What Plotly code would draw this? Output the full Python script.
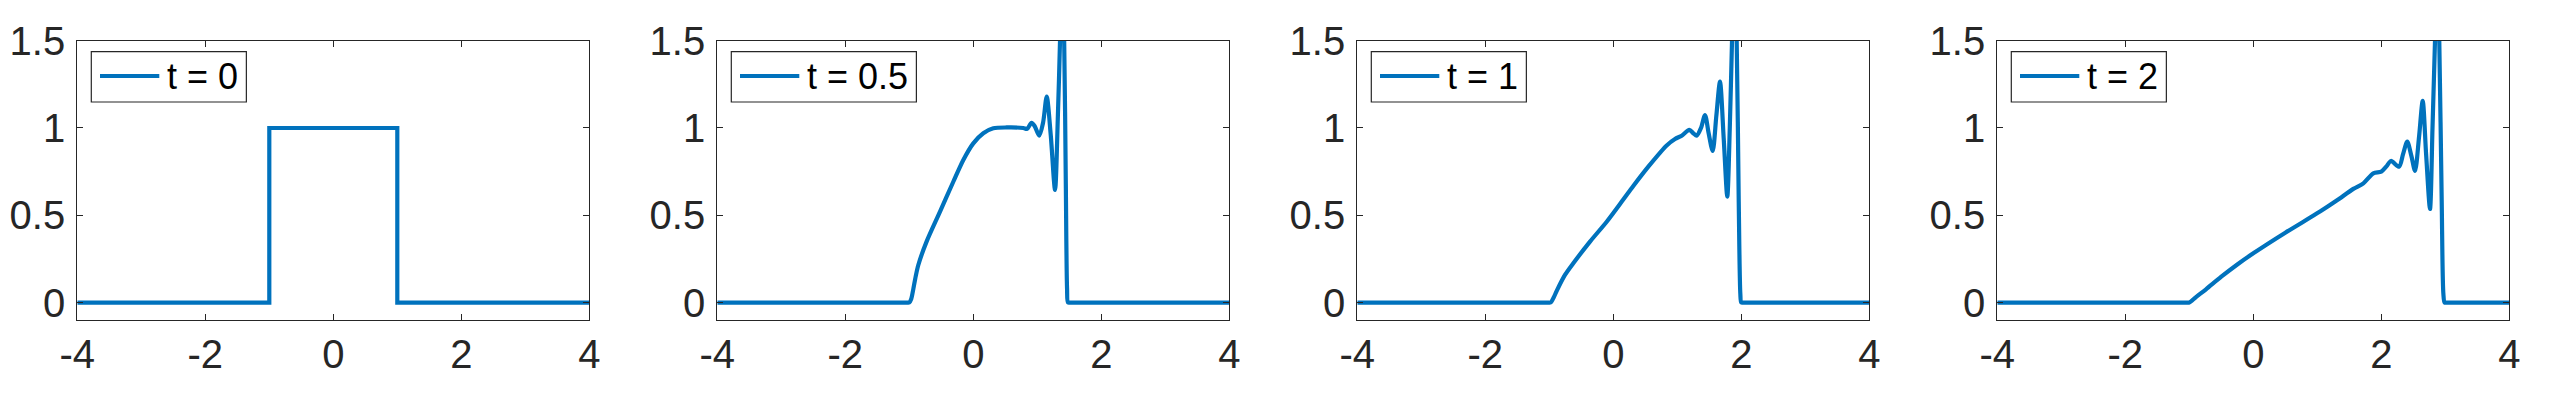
import plotly.graph_objects as go

# ---------------- data ----------------
labels = ["t = 0", "t = 0.5", "t = 1", "t = 2"]

x_t0 = [-4, -1, -1, 1, 1, 4]
u_t0 = [0, 0, 1, 1, 0, 0]

x_t05 = [-4, -1.05, -1.0, -0.97, -0.936, -0.9, -0.859, -0.73, -0.52, -0.3125, -0.156, 0.0,
         0.156, 0.3125, 0.52, 0.78, 0.84, 0.91, 0.96, 1.03, 1.09, 1.147, 1.21, 1.277,
         1.32, 1.355, 1.385, 1.42, 1.445, 1.465, 1.48, 1.52, 4]
u_t05 = [0, 0, 0, 0.02, 0.08, 0.15, 0.215, 0.349, 0.521, 0.692, 0.817, 0.912,
         0.97, 0.998, 1.003, 1.0, 0.995, 1.03, 1.01, 0.956, 1.03, 1.18, 0.96, 0.645,
         1.05, 1.5, 1.95, 1.5, 0.7, 0.08, 0, 0, 0]

x_t1 = [-4, -1.03, -0.98, -0.93, -0.884, -0.755, -0.625, -0.364, -0.103, 0.156, 0.3125,
        0.573, 0.834, 0.964, 1.069, 1.1875, 1.25, 1.303, 1.37, 1.433, 1.49, 1.553,
        1.61, 1.667, 1.725, 1.781, 1.82, 1.855, 1.89, 1.928, 1.96, 1.985, 2.0, 2.04, 4]
u_t1 = [0, 0, 0, 0.03, 0.067, 0.158, 0.225, 0.349, 0.463, 0.59, 0.668,
        0.79, 0.9, 0.937, 0.956, 0.989, 0.97, 0.956, 1.0, 1.074, 0.97, 0.868,
        1.07, 1.265, 0.94, 0.607, 1.0, 1.5, 1.95, 1.5, 0.578, 0.05, 0, 0, 0]

x_t2 = [-4, -1.05, -1.0, -0.9, -0.739, -0.5, -0.25, 0.0, 0.5, 1.042, 1.303, 1.5625, 1.72,
        1.875, 2.0, 2.08, 2.152, 2.277, 2.34, 2.406, 2.47, 2.527, 2.59, 2.647, 2.70,
        2.761, 2.80, 2.839, 2.875, 2.906, 2.944, 2.97, 2.99, 3.03, 4]
u_t2 = [0, 0, 0, 0.03, 0.076, 0.148, 0.218, 0.282, 0.4, 0.521, 0.584, 0.651, 0.683,
        0.74, 0.75, 0.78, 0.811, 0.778, 0.85, 0.922, 0.84, 0.754, 0.95, 1.155, 0.85,
        0.536, 1.0, 1.5, 1.95, 1.5, 0.578, 0.05, 0, 0, 0]

xs = [x_t0, x_t05, x_t1, x_t2]
us = [u_t0, u_t05, u_t1, u_t2]

x_ticks = [-4, -2, 0, 2, 4]
y_ticks = [0, 0.5, 1, 1.5]
y_ticktext = ["0", "0.5", "1", "1.5"]
x_range = [-4, 4]
y_range = [-0.1, 1.5]

# ---------------- layout geometry ----------------
W, H = 2560, 400
LEFT0, PANEL_W, STEP = 77.3, 512, 640
TOP, BOTTOM = 40.7, 320
LINE_COLOR = "#0072BD"
LINE_W = 4.2
TXT = "#262626"
FONT = "Liberation Sans, Arial, Helvetica, sans-serif"
LEG_FONT = 36
# legend box geometry (px, relative to the axes' left edge / figure top)
LEG_DX, LEG_TOP, LEG_BOT = 14, 51.7, 102.0
LEG_LINE0, LEG_LINE1, LEG_TEXT = 8.7, 68.0, 74.0
LEG_MID = 76.5
# approximate Helvetica advance widths (em) for legend box sizing
ADV = {"t": 0.278, " ": 0.278, "=": 0.584, ".": 0.278}


def text_width(s, size):
    return sum(ADV.get(c, 0.556) for c in s) * size


def px_x(px):
    return px / W


def px_y(py):
    return 1 - py / H


fig = go.Figure()
layout = dict(
    template="none",
    width=W, height=H,
    margin=dict(l=0, r=0, t=0, b=0, pad=0, autoexpand=False),
    paper_bgcolor="white", plot_bgcolor="white",
    font=dict(family=FONT, color=TXT, size=40),
    showlegend=False,
)
shapes, annotations = [], []

for i in range(4):
    sfx = "" if i == 0 else str(i + 1)
    fig.add_trace(go.Scatter(
        x=xs[i], y=us[i], mode="lines", name=labels[i],
        line=dict(color=LINE_COLOR, width=LINE_W,
                  shape="spline" if i else "linear", smoothing=0.8),
        xaxis="x" + sfx, yaxis="y" + sfx,
    ))
    L = LEFT0 + i * STEP
    common = dict(
        showline=True, linecolor=TXT, linewidth=1.2, mirror="ticks",
        ticks="inside", ticklen=6, tickwidth=1.2, tickcolor=TXT,
        showgrid=False, zeroline=False, automargin=False,
        tickfont=dict(family=FONT, size=40, color=TXT),
    )
    layout["xaxis" + sfx] = dict(
        domain=[px_x(L), px_x(L + PANEL_W)], range=x_range, tickmode="array",
        tickvals=x_ticks, ticktext=[str(v) for v in x_ticks], anchor="y" + sfx,
        ticklabelstandoff=-1, **common)
    layout["yaxis" + sfx] = dict(
        domain=[px_y(BOTTOM), px_y(TOP)], range=y_range, tickmode="array",
        tickvals=y_ticks, ticktext=y_ticktext, anchor="x" + sfx,
        ticklabelstandoff=3, **common)

    # legend box drawn in the MATLAB style
    bx0 = L + LEG_DX
    bw = LEG_TEXT + text_width(labels[i], LEG_FONT) + 10
    shapes.append(dict(type="rect", xref="paper", yref="paper",
                       x0=px_x(bx0), x1=px_x(bx0 + bw), y0=px_y(LEG_BOT), y1=px_y(LEG_TOP),
                       line=dict(color=TXT, width=1.2), fillcolor="white", layer="above"))
    shapes.append(dict(type="line", xref="paper", yref="paper",
                       x0=px_x(bx0 + LEG_LINE0), x1=px_x(bx0 + LEG_LINE1),
                       y0=px_y(LEG_MID - 0.5), y1=px_y(LEG_MID - 0.5),
                       line=dict(color=LINE_COLOR, width=LINE_W), layer="above"))
    annotations.append(dict(text=labels[i], xref="paper", yref="paper",
                            x=px_x(bx0 + LEG_TEXT), y=px_y(LEG_MID),
                            xanchor="left", yanchor="middle", showarrow=False,
                            font=dict(family=FONT, size=LEG_FONT, color="black")))

layout["shapes"] = shapes
layout["annotations"] = annotations
fig.update_layout(**layout)
fig.write_html("out.html", config={"displayModeBar": False},
               post_script="document.body.style.margin='0px';")
